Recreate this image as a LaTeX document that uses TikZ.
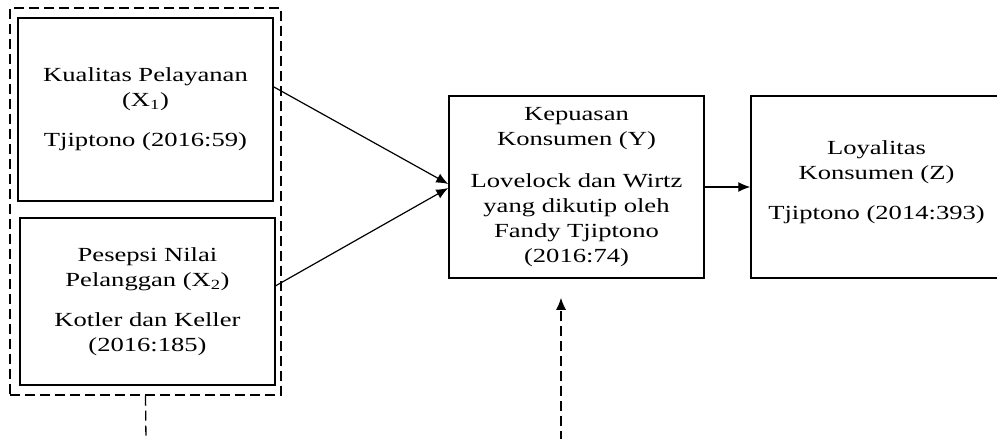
\documentclass[tikz,border=0pt]{standalone}
\usepackage{fontspec}
\setmainfont{Liberation Serif}[FakeStretch=1.33]
\usetikzlibrary{arrows.meta}
\begin{document}
\begin{tikzpicture}[x=1pt,y=-1pt,
  box/.style={draw, line width=1.5pt, align=center, inner sep=0pt,
    font=\fontsize{20}{25}\selectfont},
  grpbox/.style={draw, line width=1.3pt, dash pattern=on 10pt off 5pt, inner sep=0pt},
  arr/.style={line width=1.2pt, -{Latex[length=12pt,width=10pt]}},
  darr/.style={line width=1.3pt, dash pattern=on 10pt off 5pt, -{Latex[length=12pt,width=10pt]}},
  dline/.style={line width=1.3pt, dash pattern=on 10pt off 5pt}]
\useasboundingbox (0,0) rectangle (997,439);
\node[grpbox, minimum width=271pt, minimum height=387pt] (grp) at (145.5,201.5) {};
\node[box, minimum width=255pt, minimum height=183pt] (x1) at (145.5,109.5)
  {Kualitas Pelayanan\\(X\textsubscript{1})\\[15pt]Tjiptono (2016:59)};
\node[box, minimum width=255pt, minimum height=167pt] (x2) at (147.5,301.5)
  {Pesepsi Nilai\\Pelanggan (X\textsubscript{2})\\[15pt]Kotler dan Keller\\(2016:185)};
\node[box, minimum width=255pt, minimum height=182pt] (y) at (576.5,187)
  {Kepuasan\\Konsumen (Y)\\[17pt]Lovelock dan Wirtz\\yang dikutip oleh\\Fandy Tjiptono\\(2016:74)};
\node[box, minimum width=251pt, minimum height=182pt] (z) at (876.5,187)
  {Loyalitas\\Konsumen (Z)\\[15pt]Tjiptono (2014:393)\\[-12pt]\mbox{}};
\coordinate (gb) at (146,441);
\coordinate (yb) at (561,441);
\draw[arr] (x1.10) -- ([yshift=3pt]y.west);
\draw[arr] (x2.7) -- ([yshift=-1pt]y.west);
\draw[arr] (y.east) -- (z.west);
\draw[dline] (grp.south) -- (gb);
\draw[darr] (yb) -- ([yshift=-19pt]y.south -| yb);
\end{tikzpicture}
\end{document}
